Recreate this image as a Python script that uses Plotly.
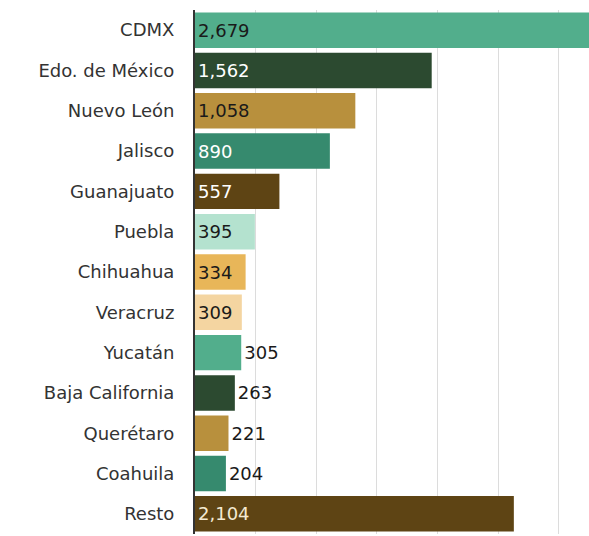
import plotly.graph_objects as go

states = ["CDMX", "Edo. de México", "Nuevo León", "Jalisco", "Guanajuato", "Puebla",
          "Chihuahua", "Veracruz", "Yucatán", "Baja California", "Querétaro", "Coahuila", "Resto"]
values = [2679, 1562, 1058, 890, 557, 395, 334, 309, 305, 263, 221, 204, 2104]
bar_colors = ["#52ae8c", "#2c4a30", "#b8903d", "#368a6e", "#5e4414", "#b4e2cf",
              "#e8b659", "#f4d5a1", "#52ae8c", "#2c4a30", "#b8903d", "#368a6e", "#5e4414"]
label_pos = ["inside"] * 8 + ["outside"] * 4 + ["inside"]
label_colors = ["#1a1a1a", "#ffffff", "#1a1a1a", "#ffffff", "#ffffff", "#1a1a1a",
                "#1a1a1a", "#1a1a1a", "#1a1a1a", "#1a1a1a", "#1a1a1a", "#1a1a1a", "#f4ead2"]
grid_values = [400, 800, 1200, 1600, 2000, 2400]

FONT = "DejaVu Sans"

fig = go.Figure(go.Bar(
    x=values,
    y=states,
    orientation="h",
    marker=dict(color=bar_colors, line=dict(width=0)),
    texttemplate="%{x:,}",
    textposition=label_pos,
    insidetextanchor="start",
    textfont=dict(family=FONT, size=18, color=label_colors),
    constraintext="none",
    cliponaxis=True,
    hoverinfo="skip",
))

fig.update_layout(
    width=589, height=536,
    margin=dict(l=195, r=0, t=10, b=2),
    paper_bgcolor="white", plot_bgcolor="white",
    bargap=0.12,
    showlegend=False,
    font=dict(family=FONT, size=18, color="#333333"),
)
fig.update_xaxes(range=[0, 2600], tickmode="array", tickvals=grid_values,
                 showticklabels=False,
                 showgrid=True, gridcolor="#dcdcdc", gridwidth=1,
                 zeroline=False, showline=False, fixedrange=True)
fig.update_yaxes(autorange="reversed", showgrid=False, showline=True,
                 linecolor="#333333", linewidth=2, ticks="",
                 ticklabelstandoff=15,
                 tickfont=dict(family=FONT, size=18, color="#333333"))

fig.write_html("out.html", config={"displayModeBar": False},
               post_script="document.body.style.margin='0';document.body.style.overflow='hidden';")
